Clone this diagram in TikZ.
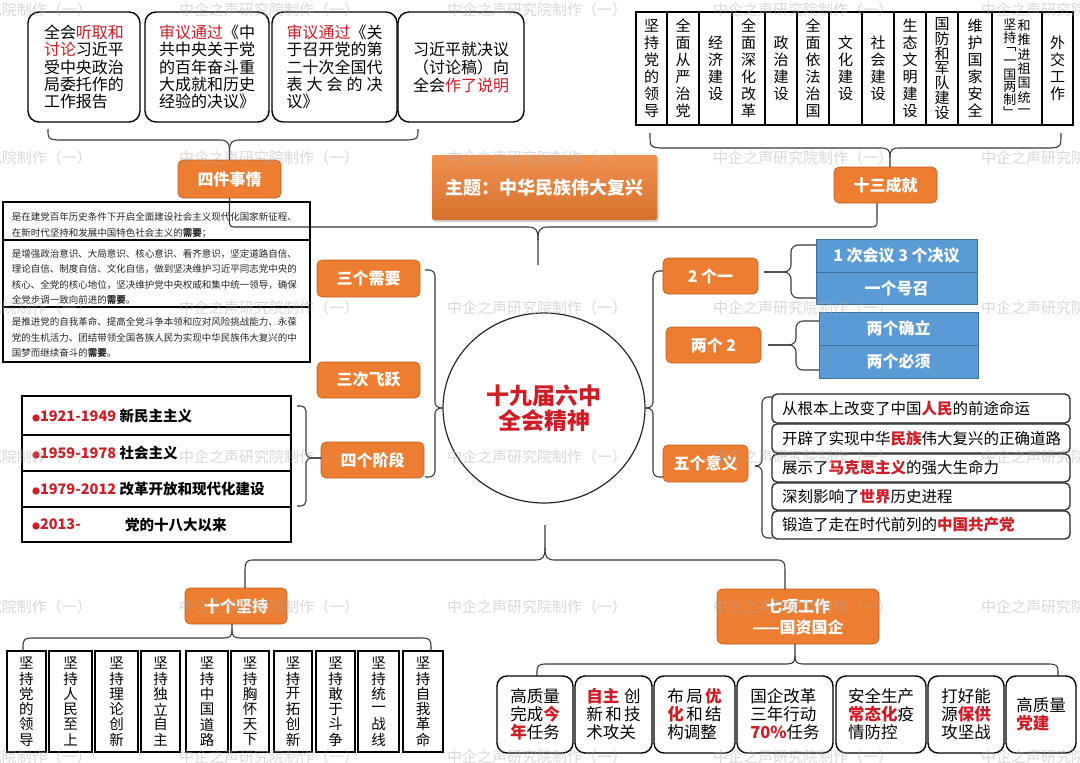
\documentclass[tikz,border=0pt]{standalone}
\usepackage{fontspec}
\setmainfont{Noto Sans CJK SC}
\usetikzlibrary{shapes.geometric,shadows,calc}
\definecolor{org}{HTML}{ED7D31}
\definecolor{orgd}{HTML}{C0601F}
\definecolor{blu}{HTML}{5B9BD5}
\definecolor{blud}{HTML}{41719C}
\definecolor{rd}{HTML}{D01C24}
\definecolor{ln}{HTML}{3A3A3A}
\definecolor{wmc}{RGB}{170,170,170}
\newcommand\hlr[1]{\textcolor{rd}{#1}}
\newcommand\hlb[1]{\textcolor{rd}{\bfseries #1}}
\newcommand\bul{{\color{rd}\fontsize{8}{8}\selectfont ●}}
\newcommand\ftop{\fontsize{16}{17.4}\selectfont}
\makeatletter
\def\vstk@end{}
\newcommand\vstk[2][17]{\vbox{\offinterlineskip\def\vstk@p{#1pt}\vstk@loop#2\vstk@end}}
\def\vstk@loop#1{\ifx#1\vstk@end\else\hbox to 1.1em{\hss\vbox to \vstk@p{\vss\hbox{#1}\vss}\hss}\expandafter\vstk@loop\fi}
\makeatother
\newcommand\bx[7]{\node[#2,minimum width=#5-#3,minimum height=#6-#4] (#1) at ({(#3+#5)/2},{(#4+#6)/2}) {#7};}
\tikzset{
 base/.style={inner sep=0pt,outer sep=0pt},
 rbk/.style={base,draw=black,line width=1.4pt,rounded corners=11pt,fill=white},
 obx/.style={base,draw=orgd,line width=0.6pt,fill=org,rounded corners=5pt,text=white,font=\fontsize{16}{18}\selectfont\bfseries},
 col/.style={base,draw=black,line width=1.3pt,fill=white,font=\fontsize{15}{15}\selectfont},
 kbx/.style={base,draw=black,line width=1.8pt,fill=white,font=\fontsize{14.5}{15}\selectfont},
 tbox/.style={base,draw=black,line width=1.6pt},
 bbx/.style={base,draw=blud,line width=0.8pt,fill=blu,text=white,font=\fontsize{16}{18}\selectfont\bfseries},
 wbx/.style={base,draw=black!85,line width=1.3pt,rounded corners=5pt,fill=white,font=\fontsize{15.5}{17}\selectfont,align=left,text width=278pt,inner xsep=10pt},
 qbx/.style={base,draw=black,line width=1.4pt,rounded corners=10pt,fill=white,align=left,font=\fontsize{16.5}{18}\selectfont},
 conn/.style={draw=ln,line width=1.1pt},
 ptxt/.style={base,anchor=west,align=left,font=\fontsize{9.5}{15.5}\selectfont,text=black!85},
 stxt/.style={base,anchor=west,font=\fontsize{14.5}{16}\selectfont\bfseries},
 wm/.style={base,anchor=west,text=wmc,opacity=0.45,font=\fontsize{15}{15}\selectfont},
}
\begin{document}
\begin{tikzpicture}[x=1pt,y=-1pt]
\useasboundingbox (0,0) rectangle (1080,763);
\fill[white] (0,0) rectangle (1080,763);
\begin{scope}
\clip (0,0) rectangle (1080,763);
% ---------- top-left four items
\bx{t1}{rbk,align=left,font=\ftop}{28}{12}{140}{122}{全会\hlr{听取和}\\\hlr{讨论}习近平\\受中央政治\\局委托作的\\工作报告}
\bx{t2}{rbk,align=left,font=\ftop}{145}{12}{269}{122}{\hlr{审议通过}《中\\共中央关于党\\的百年奋斗重\\大成就和历史\\经验的决议》}
\bx{t3}{rbk,align=left,font=\ftop}{272}{12}{397}{122}{\hlr{审议通过}《关\\于召开党的第\\二十次全国代\\\hbox to 6em{表\hfill 大\hfill 会\hfill 的\hfill 决}\\议》}
\bx{t4}{rbk,align=center,font=\fontsize{16}{18}\selectfont}{398}{12}{524}{122}{习近平就决议\\（讨论稿）向\\全会\hlr{作了说明}}
\bx{sj}{obx}{178}{160}{281}{198}{四件事情}
\coordinate (tlL) at (48,129);
\coordinate (tlR) at (418,129);
\draw[conn] (tlL) .. controls (48,139) .. (58,140) -- (220,140) .. controls (227,140) and (229.5,143) .. (229.5,150) -- (sj.north);
\draw[conn] (tlR) .. controls (418,139) .. (408,140) -- (239,140) .. controls (232,140) and (229.5,143) .. (229.5,150);
% ---------- theme
\node[base,minimum width=225,minimum height=65,top color=org!85!white,bottom color=org!90!black,drop shadow={opacity=0.35,shadow xshift=1.5pt,shadow yshift=-2pt},rounded corners=2pt,text=white,font=\fontsize{18}{20}\selectfont\bfseries] (zt) at (544.5,187.5) {主题：中华民族伟大复兴};
% ---------- thirteen achievements
\bx{sc}{obx}{834}{167}{937}{203}{十三成就}
\bx{c1}{col}{636}{12}{667}{125}{\vstk{坚持党的领导}}
\bx{c2}{col}{667}{12}{699}{125}{\vstk{全面从严治党}}
\bx{c3}{col}{699}{12}{732}{125}{\vstk{经济建设}}
\bx{c4}{col}{732}{12}{765}{125}{\vstk{全面深化改革}}
\bx{c5}{col}{765}{12}{797}{125}{\vstk{政治建设}}
\bx{c6}{col}{797}{12}{829}{125}{\vstk{全面依法治国}}
\bx{c7}{col}{829}{12}{862}{125}{\vstk{文化建设}}
\bx{c8}{col}{862}{12}{894}{125}{\vstk{社会建设}}
\bx{c9}{col}{894}{12}{926}{125}{\vstk{生态文明建设}}
\bx{c10}{col}{926}{12}{958}{125}{\vstk[14.8]{国防和军队建设}}
\bx{c11}{col}{958}{12}{992}{125}{\vstk{维护国家安全}}
\bx{c12}{col,font=\fontsize{13}{13}\selectfont}{992}{12}{1042}{125}{\vstk[12.5]{坚持﹁一国两制﹂}\vstk[14.3]{和推进祖国统一}}
\bx{c13}{col}{1042}{12}{1073}{125}{\vstk{外交工作}}
\coordinate (trL) at (650,133);
\coordinate (trR) at (1061,133);
\draw[conn] (trL) .. controls (650,147) .. (660,148) -- (881,148) .. controls (888,148) and (890,150) .. (890,157) -- ($(sc.north)+(4.5,0)$);
\draw[conn] (trR) .. controls (1061,147) .. (1051,148) -- (899,148) .. controls (892,148) and (890,150) .. (890,157);
% ---------- central top line
\coordinate (zstem) at (538,265);
\draw[conn] (sj.south) -- (229.5,219) .. controls (229.5,227) .. (238,227) -- (528,227) .. controls (536,227) and (538,230) .. (538,240) -- (zstem);
\draw[conn] (538,240) .. controls (538,230) and (540,227) .. (548,227) -- (868,227) .. controls (877,227) .. (877,219) -- ($(sc.south)+(-8.5,0)$);
% ---------- circle
\node[draw=black!85,line width=1.2pt,ellipse,minimum width=202,minimum height=190,inner sep=0pt,align=center,text=rd,font=\fontsize{23}{25}\selectfont\bfseries] (cir) at (544,408) {十九届六中\\全会精神};
% ---------- left side
\bx{p1}{tbox}{3}{202}{310}{240}{}
\bx{p2}{tbox}{3}{240}{310}{307}{}
\bx{p3}{tbox}{3}{307}{310}{362}{}
\node[ptxt] (p1t) at (12,225) {是在建党百年历史条件下开启全面建设社会主义现代化国家新征程、\\在新时代坚持和发展中国特色社会主义的\textbf{需要}；};
\node[ptxt] (p2t) at (12,277) {是增强政治意识、大局意识、核心意识、看齐意识，坚定道路自信、\\理论自信、制度自信、文化自信，做到坚决维护习近平同志党中央的\\核心、全党的核心地位，坚决维护党中央权威和集中统一领导，确保\\全党步调一致向前进的\textbf{需要}。};
\node[ptxt] (p3t) at (12,337.5) {是推进党的自我革命、提高全党斗争本领和应对风险挑战能力、永葆\\党的生机活力、团结带领全国各族人民为实现中华民族伟大复兴的中\\国梦而继续奋斗的\textbf{需要}。};
\bx{sgxy}{obx}{317}{260}{420}{297}{三个需要}
\bx{scfy}{obx}{317}{362}{420}{398}{三次飞跃}
\bx{sgjd}{obx}{321}{442}{424}{478}{四个阶段}
\coordinate (lt) at (425,270);
\coordinate (lb) at (425,477);
\draw[conn,rounded corners=6pt] (lt) -| (435,408) -- (cir.west);
\draw[conn,rounded corners=6pt] (lb) -| (435,408) -- (cir.west);
\bx{s1}{tbox}{22}{396}{291}{435}{}
\bx{s2}{tbox}{22}{435}{291}{471}{}
\bx{s3}{tbox}{22}{471}{291}{507}{}
\bx{s4}{tbox}{22}{507}{291}{542}{}
\node[stxt] (s1t) at (32,416) {\bul\hlr{1921-1949} 新民主主义};
\node[stxt] (s2t) at (32,453) {\bul\hlr{1959-1978} 社会主义};
\node[stxt] (s3t) at (32,489) {\bul\hlr{1979-2012} 改革开放和现代化建设};
\node[stxt] (s4t) at (32,524.5) {\bul\hlr{2013-}};
\node[stxt] (s4u) at (125,524.5) {党的十八大以来};
\coordinate (sbt) at (297,406);
\coordinate (sbb) at (297,506);
\draw[conn,rounded corners=5pt] (sbt) -| (306,458) -- ($(sgjd.west)+(0,-2)$);
\draw[conn,rounded corners=5pt] (sbb) -| (306,458) -- ($(sgjd.west)+(0,-2)$);
% ---------- right side
\bx{ey}{obx}{663}{258}{758}{294}{2 个一}
\bx{lg}{obx}{666}{327}{761}{363}{两个 2}
\bx{wy}{obx}{663}{445}{748}{482}{五个意义}
\coordinate (rt) at (663,271);
\coordinate (rb) at (663,477);
\draw[conn,rounded corners=6pt] (rt) -| (653,408) -- (cir.east);
\draw[conn,rounded corners=6pt] (rb) -| (653,408) -- (cir.east);
\bx{b1}{bbx}{816}{239}{977}{272}{1 次会议 3 个决议}
\bx{b2}{bbx}{816}{272}{977}{304}{一个号召}
\bx{b3}{bbx}{819}{312}{978}{345}{两个确立}
\bx{b4}{bbx}{819}{345}{978}{378}{两个必须}
\draw[conn,rounded corners=7pt] ($(ey.east)+(6,-4)$) -- (791,272) |- ($(b1.north west)+(0,6)$);
\draw[conn,rounded corners=7pt] ($(ey.east)+(6,-4)$) -- (791,272) |- ($(b2.south west)+(0,-6)$);
\draw[conn,rounded corners=7pt] ($(lg.east)+(7,0)$) -- (796,345) |- ($(b3.north west)+(0,9)$);
\draw[conn,rounded corners=7pt] ($(lg.east)+(7,0)$) -- (796,345) |- ($(b4.south west)+(0,-8)$);
\bx{f1}{wbx}{772}{394}{1070}{423}{从根本上改变了中国\hlb{人民}的前途命运}
\bx{f2}{wbx}{772}{424}{1070}{453}{开辟了实现中华\hlb{民族}伟大复兴的正确道路}
\bx{f3}{wbx}{772}{454}{1070}{482}{展示了\hlb{马克思主义}的强大生命力}
\bx{f4}{wbx}{772}{483}{1070}{510}{深刻影响了\hlb{世界}历史进程}
\bx{f5}{wbx}{772}{511}{1070}{539}{锻造了走在时代前列的\hlb{中国共产党}}
\draw[conn,rounded corners=6pt] ($(wy.east)+(7,2.5)$) -- (762,466) |- ($(f1.north west)+(0,3)$);
\draw[conn,rounded corners=6pt] ($(wy.east)+(7,2.5)$) -- (762,466) |- ($(f5.south west)+(0,-1)$);
% ---------- bottom
\bx{sjc}{obx}{185}{588}{287}{624}{十个坚持}
\node[base,minimum width=162,minimum height=55,draw=orgd,line width=0.6pt,fill=org,rounded corners=6pt,text=white,align=center,font=\fontsize{16}{21}\selectfont\bfseries] (qx) at (798,616.5) {七项工作\\——国资国企};
\coordinate (cb) at (545,525);
\draw[conn] (cb) -- (545,548) .. controls (545,557) and (543,560) .. (535,560) -- (253,560) .. controls (246,560) and (245,563) .. (245,570) -- ($(sjc.north)+(9,0)$);
\draw[conn] (545,548) .. controls (545,557) and (547,560) .. (555,560) -- (777,560) .. controls (784,560) and (785,563) .. (785,570) -- ($(qx.north)+(-13,0)$);
\bx{k1}{kbx}{7}{651}{46}{752}{\vstk[15.3]{坚持党的领导}}
\bx{k2}{kbx}{49}{651}{92}{752}{\vstk[15.3]{坚持人民至上}}
\bx{k3}{kbx}{95}{651}{138}{752}{\vstk[15.3]{坚持理论创新}}
\bx{k4}{kbx}{141}{651}{180}{752}{\vstk[15.3]{坚持独立自主}}
\bx{k5}{kbx}{186}{651}{228}{752}{\vstk[15.3]{坚持中国道路}}
\bx{k6}{kbx}{231}{651}{269}{752}{\vstk[15.3]{坚持胸怀天下}}
\bx{k7}{kbx}{274}{651}{312}{752}{\vstk[15.3]{坚持开拓创新}}
\bx{k8}{kbx}{316}{651}{355}{752}{\vstk[15.3]{坚持敢于斗争}}
\bx{k9}{kbx}{358}{651}{399}{752}{\vstk[15.3]{坚持统一战线}}
\bx{k10}{kbx}{403}{651}{443}{752}{\vstk[15.3]{坚持自我革命}}
\draw[conn] ($(sjc.south)+(-4,0)$) -- (232,630) .. controls (232,636) and (230,638) .. (224,638) -- (31,638) .. controls (25,638) and (23,640) .. (23,646) -- ($(k1.north)+(-3.5,0)$);
\draw[conn] (232,630) .. controls (232,636) and (234,638) .. (240,638) -- (423,638) .. controls (429,638) and (431,640) .. (431,646) -- ($(k10.north)+(8,0)$);
\bx{q1}{qbx}{497}{676}{573}{753}{高质量\\完成\hlb{今}\\\hlb{年}任务}
\bx{q2}{qbx}{575}{676}{652}{753}{\hbox to 3.3em{\hlb{自主}\hfill 创}\\\hbox to 3.3em{新\hfill 和\hfill 技}\\术攻关}
\bx{q3}{qbx}{654}{676}{735}{753}{\hbox to 3.3em{布\hfill 局\hfill \hlb{优}}\\\hbox to 3.3em{\hlb{化}\hfill 和\hfill 结}\\构调整}
\bx{q4}{qbx}{737}{676}{833}{753}{国企改革\\三年行动\\\hlb{70\%}任务}
\bx{q5}{qbx}{836}{676}{926}{753}{安全生产\\\hlb{常态化}疫\\情防控}
\bx{q6}{qbx}{928}{676}{1004}{753}{打好能\\源\hlb{保供}\\攻坚战}
\bx{q7}{qbx}{1006}{676}{1076}{753}{高质量\\\hlb{党建}}
\draw[conn] ($(qx.south)+(-3,0)$) -- (795,656) .. controls (795,662) and (793,664) .. (787,664) -- (545,664) .. controls (539,664) and (537,666) .. (537,671) -- ($(q1.north)+(2,0)$);
\draw[conn] (795,656) .. controls (795,662) and (797,664) .. (803,664) -- (1050,664) .. controls (1056,664) and (1058,666) .. (1058,671) -- ($(q7.north)+(17,0)$);
% ---------- watermarks
\foreach \yy in {10,158,308,457,607,757}{
 \foreach \xx in {-88,179,447,713,981}{
  \node[wm] (wm\xx-\yy) at (\xx,\yy) {中企之声研究院制作（一）};
 }
}
\end{scope}
\end{tikzpicture}
\end{document}
